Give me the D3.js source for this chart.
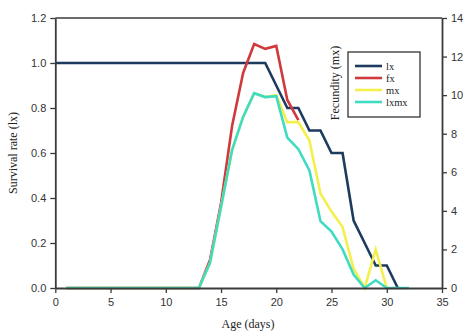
<!DOCTYPE html>
<html>
<head>
<meta charset="utf-8">
<script src="https://cdn.jsdelivr.net/npm/d3@7"></script>
<style>
  html, body { margin: 0; padding: 0; background: #fff; }
  svg { display: block; }
</style>
</head>
<body>
<svg id="chart" width="466" height="331"></svg>
<script>
// Life-table series by age (days)
const lxDays = d3.range(0, 32);
const lxValues = [1, 1, 1, 1, 1, 1, 1, 1, 1, 1, 1, 1, 1, 1, 1, 1, 1, 1, 1, 1,
                  0.9, 0.8, 0.8, 0.7, 0.7, 0.6, 0.6, 0.3, 0.2, 0.1, 0.1, 0];

const fxDays = d3.range(1, 23);
const fxValues = [0, 0, 0, 0, 0, 0, 0, 0, 0, 0, 0, 0, 0,
                  1.45, 4.4, 8.4, 11.15, 12.65, 12.4, 12.55, 9.75, 8.7];

const mxDays = d3.range(1, 31);
const mxValues = [0, 0, 0, 0, 0, 0, 0, 0, 0, 0, 0, 0, 0,
                  1.3, 4.2, 7.15, 8.87, 10.1, 9.9, 10.0, 8.6, 8.6, 7.65, 4.9, 3.96, 3.16, 1.0, 0, 2.0, 0];

const lxmxDays = d3.range(1, 33);
const lxmxValues = [0, 0, 0, 0, 0, 0, 0, 0, 0, 0, 0, 0, 0,
                    1.3, 4.2, 7.15, 8.87, 10.1, 9.9, 9.95, 7.8, 7.2, 6.1, 3.47, 2.92, 2.0, 0.7, 0, 0.4, 0, 0, 0];

const xTicks = [0, 5, 10, 15, 20, 25, 30, 35];
const leftTicks = [0, 0.2, 0.4, 0.6, 0.8, 1.0, 1.2];
const rightTicks = [0, 2, 4, 6, 8, 10, 12, 14];

const seriesNames = ["lx", "fx", "mx", "lxmx"];
const seriesColors = ["#1d3a5f", "#cf3a3c", "#f3f04c", "#3fdcc2"];

const svg = d3.select("#chart");
const plot = { left: 55.3, right: 442, top: 18, bottom: 288 };

const x = d3.scaleLinear().domain([0, 35]).range([plot.left, plot.right]);
const yLeft = d3.scaleLinear().domain([0, 1.2]).range([plot.bottom, plot.top]);
const yRight = d3.scaleLinear().domain([0, 14]).range([plot.bottom, plot.top]);

const axisColor = "#3a3a3a";
const tickFont = "'Liberation Sans', Arial, sans-serif";
const titleFont = "'Liberation Serif', 'Times New Roman', serif";

// frame: top edge
svg.append("line")
  .attr("x1", plot.left).attr("x2", plot.right)
  .attr("y1", plot.top).attr("y2", plot.top)
  .attr("stroke", axisColor).attr("stroke-width", 1.5);

function styleAxis(g) {
  g.select(".domain").attr("stroke", axisColor).attr("stroke-width", 1.8);
  g.selectAll(".tick line").attr("stroke", axisColor).attr("stroke-width", 1.3);
  g.selectAll(".tick text")
    .attr("fill", "#333")
    .style("font-family", tickFont)
    .style("font-size", "11px");
}

// series lines (drawn before the axes so the axes sit on top)
const series = [
  { days: lxDays, values: lxValues, y: yLeft },
  { days: fxDays, values: fxValues, y: yRight },
  { days: mxDays, values: mxValues, y: yRight },
  { days: lxmxDays, values: lxmxValues, y: yRight }
];

series.forEach((s, i) => {
  const line = d3.line()
    .x((d, j) => x(s.days[j]))
    .y(d => s.y(d));
  svg.append("path")
    .datum(s.values)
    .attr("d", line)
    .attr("fill", "none")
    .attr("stroke", seriesColors[i])
    .attr("stroke-width", 2.6)
    .attr("stroke-linejoin", "miter");
});

svg.append("g")
  .attr("transform", `translate(0,${plot.bottom})`)
  .call(d3.axisBottom(x).tickValues(xTicks).tickSize(5).tickSizeOuter(0).tickPadding(5))
  .call(styleAxis);

svg.append("g")
  .attr("transform", `translate(${plot.left},0)`)
  .call(d3.axisLeft(yLeft).tickValues(leftTicks).tickFormat(d3.format(".1f")).tickSize(5).tickSizeOuter(0).tickPadding(4))
  .call(styleAxis);

svg.append("g")
  .attr("transform", `translate(${plot.right},0)`)
  .call(d3.axisRight(yRight).tickValues(rightTicks).tickSize(5).tickSizeOuter(0).tickPadding(4))
  .call(styleAxis);

// axis titles
svg.append("text")
  .attr("transform", `translate(17,${(plot.top + plot.bottom) / 2}) rotate(-90)`)
  .attr("text-anchor", "middle")
  .style("font-family", titleFont)
  .style("font-size", "12px")
  .attr("fill", "#222")
  .text("Survival rate (lx)");

svg.append("text")
  .attr("transform", `translate(339,83) rotate(-90)`)
  .attr("text-anchor", "middle")
  .style("font-family", titleFont)
  .style("font-size", "12px")
  .attr("fill", "#222")
  .text("Fecundity (mx)");

svg.append("text")
  .attr("x", 248).attr("y", 328)
  .attr("text-anchor", "middle")
  .style("font-family", titleFont)
  .style("font-size", "12px")
  .attr("fill", "#222")
  .text("Age (days)");

// legend
const legend = svg.append("g").attr("transform", "translate(348,52)");
legend.append("rect")
  .attr("width", 72).attr("height", 65)
  .attr("fill", "#fff")
  .attr("stroke", "#333").attr("stroke-width", 1.3);

seriesNames.forEach((name, i) => {
  const yy = 14 + i * 12;
  legend.append("line")
    .attr("x1", 7).attr("x2", 34)
    .attr("y1", yy).attr("y2", yy)
    .attr("stroke", seriesColors[i]).attr("stroke-width", 2.6);
  legend.append("text")
    .attr("x", 38).attr("y", yy + 3.5)
    .style("font-family", titleFont)
    .style("font-size", "10.5px")
    .attr("fill", "#222")
    .text(name);
});
</script>
</body>
</html>
